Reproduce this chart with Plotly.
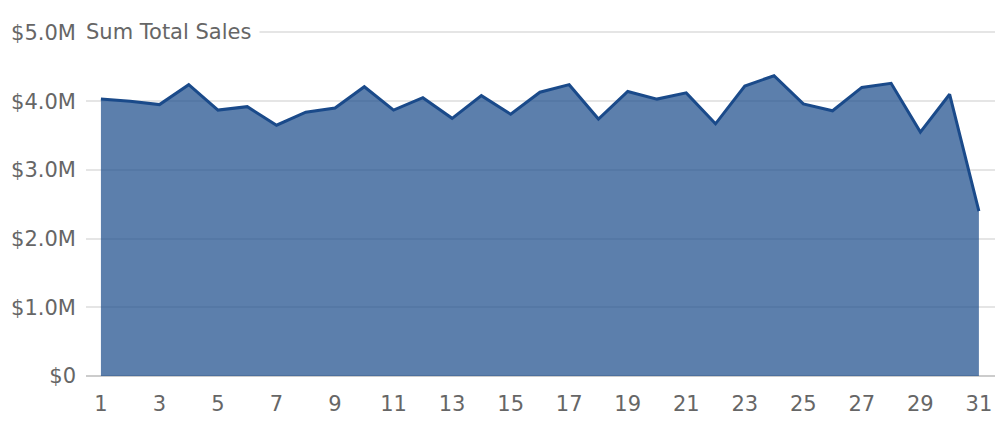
import plotly.graph_objects as go

days = list(range(1, 32))
sales_m = [4.03, 4.00, 3.95, 4.24, 3.87, 3.92, 3.65, 3.84, 3.90, 4.21,
           3.87, 4.05, 3.75, 4.08, 3.81, 4.13, 4.24, 3.74, 4.14, 4.03,
           4.12, 3.67, 4.22, 4.37, 3.96, 3.86, 4.20, 4.26, 3.55, 4.10, 2.40]
sales = [v * 1e6 for v in sales_m]
y_ticks = [0, 1e6, 2e6, 3e6, 4e6, 5e6]
y_labels = ["$0", "$1.0M", "$2.0M", "$3.0M", "$4.0M", "$5.0M"]
title = "Sum Total Sales"

font_family = "DejaVu Sans, sans-serif"
fsize = 21

fig = go.Figure()
fig.add_trace(go.Scatter(
    x=days, y=sales, mode="lines", fill="tozeroy",
    line=dict(color="#1a4a8a", width=3),
    fillcolor="rgba(26,74,138,0.71)",
    hoverinfo="x+y",
))

fig.update_layout(
    width=1000, height=430,
    margin=dict(l=86, r=5, t=28.6, b=54),
    paper_bgcolor="white", plot_bgcolor="white",
    showlegend=False,
    font=dict(family=font_family, size=fsize, color="#666666"),
    xaxis=dict(
        range=[0.49, 31.55], tickmode="linear", tick0=1, dtick=2,
        showgrid=False, zeroline=False, showline=False, automargin=False,
        ticks="", ticklen=0, ticklabelstandoff=13,
        tickfont=dict(size=fsize, color="#666666"),
    ),
    yaxis=dict(
        range=[0, 5.05e6], tickmode="array", tickvals=y_ticks, ticktext=y_labels,
        showgrid=True, gridcolor="#e5e5e5", gridwidth=1.5,
        zeroline=True, zerolinecolor="#cccccc", zerolinewidth=2,
        showline=False, ticks="", ticklabelstandoff=9, automargin=False,
        tickfont=dict(size=fsize, color="#666666"),
    ),
    annotations=[dict(
        text=title, xref="paper", yref="y", x=0, y=5e6,
        xanchor="left", yanchor="middle", showarrow=False, xshift=-9,
        font=dict(size=fsize, color="#666666", family=font_family),
        bgcolor="white", borderpad=8,
    )],
)

fig.write_html("out.html", config={"displayModeBar": False},
               post_script="document.body.style.margin='0px';")
